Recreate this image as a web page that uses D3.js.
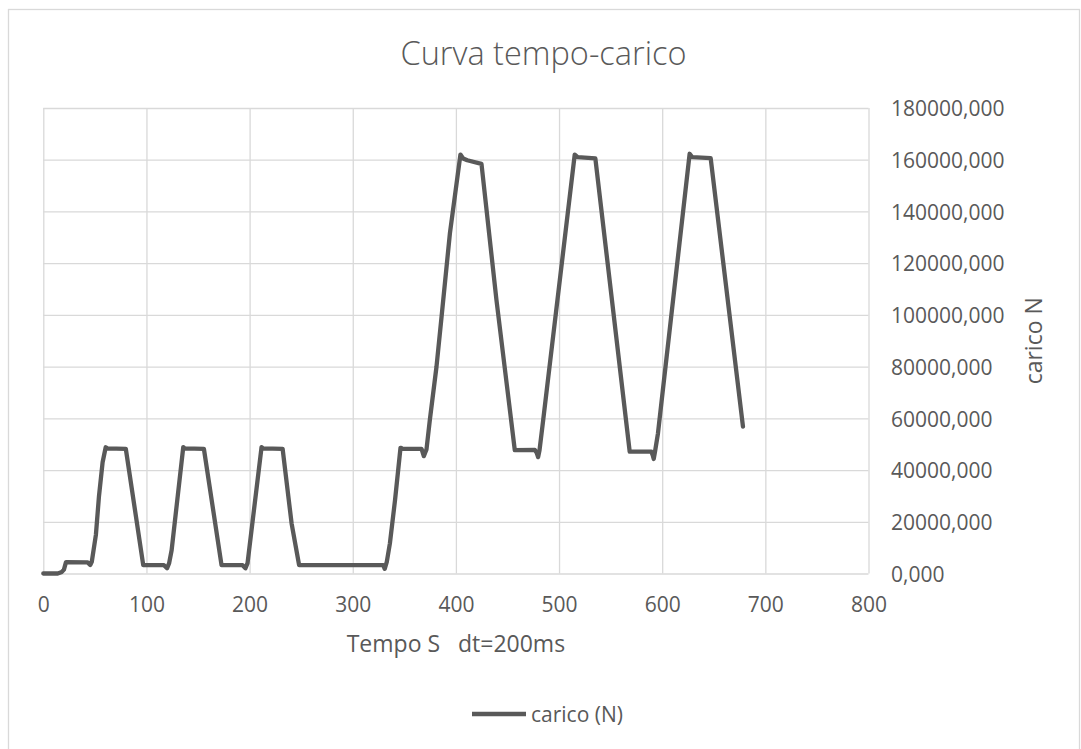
<!DOCTYPE html>
<html>
<head>
<meta charset="utf-8">
<script src="https://cdn.jsdelivr.net/npm/d3@7"></script>
<style>
  html, body { margin: 0; padding: 0; background: #ffffff; }
  svg { display: block; }
  text { font-family: "Open Sans", "Noto Sans", Lato, sans-serif; fill: #595959; }
</style>
</head>
<body>
<svg id="chart" width="1081" height="749"></svg>
<script>
// ---- data ----
const timeS = [0, 14, 18, 20, 22, 43, 45.5, 47, 51, 54, 57.5, 60.5, 62, 80, 96.9, 117, 120, 122, 124.4, 135.7, 137, 155.7,
  172.8, 193.2, 196, 198, 211.6, 213, 232, 240.7, 248, 329.5, 331, 333, 336, 341, 346.3, 348, 366.7, 368.9, 370.5,
  371.5, 374.7, 381.2, 386.1, 394.2, 404.4, 407, 411, 424.8, 439.3, 457.1, 476.5, 478.5, 479.7, 481, 484.6, 515.2,
  518, 535.2, 568.5, 589.5, 591, 591.8, 593, 595.9, 626.6, 629, 647, 678.3];
const caricoN = [0, 0, 600, 1500, 4400, 4300, 3300, 4500, 15000, 30000, 43000, 48800, 48400, 48200, 3200, 3200, 2000,
  4000, 9000, 48900, 48400, 48200, 3200, 3200, 2000, 4000, 48900, 48400, 48200, 19400, 3200, 3200, 1800, 4500, 11600,
  28400, 48600, 48300, 48200, 45400, 47000, 48000, 59300, 80000, 99300, 131600, 162000, 160500, 159800, 158400,
  105800, 47700, 47800, 46500, 45000, 47500, 59300, 162000, 161000, 160500, 47100, 47100, 45500, 44300, 47000,
  54200, 162300, 161000, 160600, 56800];
const xTicks = [0, 100, 200, 300, 400, 500, 600, 700, 800];
const yTicks = [0, 20000, 40000, 60000, 80000, 100000, 120000, 140000, 160000, 180000];
const chartTitle = "Curva tempo-carico";
const xTitle = "Tempo S   dt=200ms";
const yTitle = "carico N";
const seriesName = "carico (N)";

// ---- layout ----
const svg = d3.select("#chart");
const plot = { left: 43.3, right: 868.5, top: 108, bottom: 573.5 };
const gridColor = "#d9d9d9";
const lineColor = "#595959";

svg.append("rect").attr("x", 0).attr("y", 0).attr("width", 1081).attr("height", 749).attr("fill", "#fff");
// chart frame
svg.append("rect")
  .attr("x", 8.5).attr("y", 9.5).attr("width", 1071).attr("height", 800)
  .attr("fill", "none").attr("stroke", gridColor).attr("stroke-width", 1.3);

const x = d3.scaleLinear().domain([0, 800]).range([plot.left, plot.right]);
const y = d3.scaleLinear().domain([0, 180000]).range([plot.bottom, plot.top]);

const fmt = d3.formatLocale({ decimal: ",", thousands: "", grouping: [3], currency: ["", ""] }).format(".3f");

// x axis with vertical gridlines
const gx = svg.append("g")
  .attr("transform", `translate(0,${plot.bottom})`)
  .call(d3.axisBottom(x).tickValues(xTicks).tickSize(-(plot.bottom - plot.top)).tickFormat(d3.format("d")));
gx.select(".domain").remove();
gx.selectAll(".tick line").attr("stroke", gridColor).attr("stroke-width", 1.3);
gx.selectAll(".tick text")
  .attr("y", 38.5).attr("dy", null)
  .attr("font-size", 21).attr("fill", "#595959")
  .style("font-family", '"Open Sans", "Noto Sans", sans-serif');

// y axis on the right with horizontal gridlines
const gy = svg.append("g")
  .attr("transform", `translate(${plot.right},0)`)
  .call(d3.axisRight(y).tickValues(yTicks).tickSize(-(plot.right - plot.left)).tickFormat(fmt));
gy.select(".domain").remove();
gy.selectAll(".tick line").attr("stroke", gridColor).attr("stroke-width", 1.3);
gy.selectAll(".tick text")
  .attr("x", 891 - plot.right).attr("dy", null).attr("y", 7.8)
  .attr("text-anchor", "start")
  .attr("font-size", 21).attr("fill", "#595959")
  .style("font-family", '"Open Sans", "Noto Sans", sans-serif');

// data line
const data = timeS.map((t, i) => ({ t, v: caricoN[i] }));
svg.append("path")
  .datum(data)
  .attr("fill", "none")
  .attr("stroke", lineColor)
  .attr("stroke-width", 4.3)
  .attr("stroke-linejoin", "round")
  .attr("stroke-linecap", "round")
  .attr("d", d3.line().x(d => x(d.t)).y(d => y(d.v)));

// titles
svg.append("text")
  .attr("x", 543.5).attr("y", 65)
  .attr("text-anchor", "middle")
  .attr("font-size", 32.5).attr("font-weight", 300)
  .text(chartTitle);

svg.append("text")
  .attr("x", (plot.left + plot.right) / 2).attr("y", 652)
  .attr("text-anchor", "middle")
  .attr("font-size", 23)
  .style("white-space", "pre")
  .attr("xml:space", "preserve")
  .text(xTitle);

svg.append("text")
  .attr("transform", `translate(1041.5,${(plot.top + plot.bottom) / 2}) rotate(-90)`)
  .attr("text-anchor", "middle")
  .attr("font-size", 23)
  .text(yTitle);

// legend
svg.append("line")
  .attr("x1", 472).attr("x2", 526).attr("y1", 714).attr("y2", 714)
  .attr("stroke", lineColor).attr("stroke-width", 4.3);
svg.append("text")
  .attr("x", 531).attr("y", 721.5)
  .attr("font-size", 21)
  .text(seriesName);
</script>
</body>
</html>
